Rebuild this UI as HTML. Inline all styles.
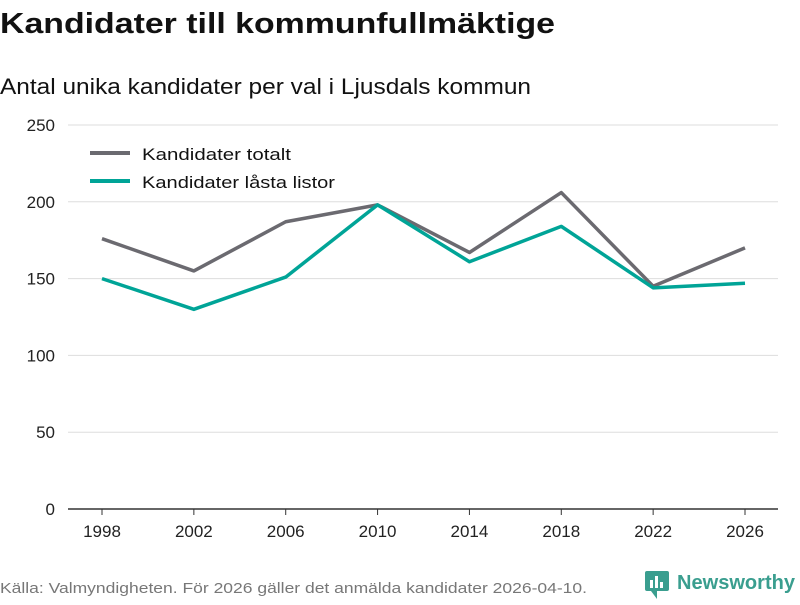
<!DOCTYPE html>
<html><head><meta charset="utf-8">
<style>
body{margin:0;background:#fff;width:800px;height:600px;overflow:hidden;font-family:"Liberation Sans","DejaVu Sans",sans-serif;}
</style></head>
<body>
<svg width="800" height="600">
<text x="0" y="33" font-size="29" font-weight="bold" fill="#111" textLength="555" lengthAdjust="spacingAndGlyphs">Kandidater till kommunfullmäktige</text>
<text x="0" y="94" font-size="22" fill="#111" textLength="531" lengthAdjust="spacingAndGlyphs">Antal unika kandidater per val i Ljusdals kommun</text>
<g id="grid"></g><g id="xaxis"></g><g id="lines"></g>
<g>
<line x1="90" y1="153" x2="130" y2="153" stroke="#6b6a70" stroke-width="4"/>
<text x="142" y="160" font-size="17" fill="#111" textLength="149" lengthAdjust="spacingAndGlyphs">Kandidater totalt</text>
<line x1="90" y1="181" x2="130" y2="181" stroke="#00a497" stroke-width="4"/>
<text x="142" y="188" font-size="17" fill="#111" textLength="193" lengthAdjust="spacingAndGlyphs">Kandidater låsta listor</text>
</g>
<text x="0" y="593" font-size="15" fill="#777" textLength="587" lengthAdjust="spacingAndGlyphs">Källa: Valmyndigheten. För 2026 gäller det anmälda kandidater 2026-04-10.</text>
<g>
<rect x="645" y="571" width="24" height="20" rx="2" fill="#3a9e8f"/>
<path d="M651 591 L657 599 L657 591 Z" fill="#3a9e8f"/>
<rect x="650" y="580" width="3" height="8" fill="#fff"/><rect x="655" y="576" width="3" height="12" fill="#fff"/><rect x="660" y="582" width="3" height="6" fill="#fff"/>
<text x="677" y="589" font-size="20" font-weight="bold" fill="#3a9e8f" textLength="118" lengthAdjust="spacingAndGlyphs">Newsworthy</text>
</g>
</svg>
<script>
const years=["1998","2002","2006","2010","2014","2018","2022","2026"];
const totalt=[176,155,187,198,167,206,145,170];
const lasta=[150,130,151,198,161,184,144,147];
const yTicks=[0,50,100,150,200,250];
const NS="http://www.w3.org/2000/svg";
const x0=102,x1=745,yb=509,yt=125,maxV=250;
const xs=i=>x0+i*(x1-x0)/(years.length-1);
const ys=v=>yb-v*(yb-yt)/maxV;
function mk(tag,attrs,parent){const e=document.createElementNS(NS,tag);for(const k in attrs)e.setAttribute(k,attrs[k]);document.getElementById(parent).appendChild(e);return e;}
yTicks.forEach(t=>{
 const l=mk("line",{x1:68,x2:778,y1:ys(t),y2:ys(t),stroke:t===0?"#333":"#ddd","stroke-width":t===0?1.5:1},"grid");
 
 
 const tx=mk("text",{x:55,y:ys(t)+6,"text-anchor":"end","font-size":17,fill:"#222"},"grid");
 tx.textContent=t;
 
 
});
years.forEach((y,i)=>{
 const tk=mk("line",{x1:xs(i),x2:xs(i),y1:yb,y2:yb+6,stroke:"#333"},"xaxis");
 
 
 const tx=mk("text",{x:xs(i),y:537,"text-anchor":"middle","font-size":17,fill:"#222"},"xaxis");
 tx.textContent=y;
 
 
});
function line(vals,color,name){
 const p=mk("polyline",{points:vals.map((v,i)=>xs(i)+","+ys(v)).join(" "),fill:"none",stroke:color,"stroke-width":3.5,"stroke-linejoin":"round"},"lines");
 
 
}
line(totalt,"#6b6a70","line-kandidater-totalt");
line(lasta,"#00a497","line-kandidater-lasta-listor");
</script>
</body></html>
